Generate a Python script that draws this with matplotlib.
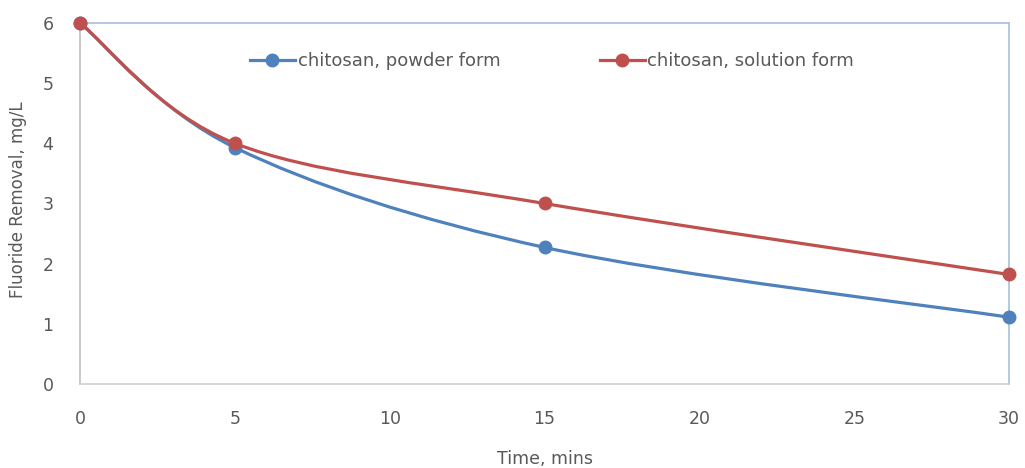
import numpy as np
import matplotlib
matplotlib.use('Agg')
import matplotlib.pyplot as plt
from matplotlib.path import Path
from matplotlib.patches import PathPatch
from matplotlib.lines import Line2D

# data
time_min = [0, 5, 15, 30]
powder = [6.0, 3.93, 2.27, 1.11]
solution = [6.0, 4.0, 3.0, 1.82]
series_names = ['chitosan, powder form', 'chitosan, solution form']
x_ticks = [0, 5, 10, 15, 20, 25, 30]
y_ticks = [0, 1, 2, 3, 4, 5, 6]

blue = '#4F81BD'
red = '#C0504D'
grey_txt = '#595959'

plt.rcParams['font.family'] = ['DejaVu Sans']


def smooth_path(xs, ys):
    # excel-style smoothed line: cubic bezier through the points
    pts = np.column_stack([xs, ys]).astype(float)
    n = len(pts)
    verts = [pts[0]]
    codes = [Path.MOVETO]
    for i in range(n - 1):
        p0 = pts[i - 1] if i > 0 else pts[i]
        p1 = pts[i]
        p2 = pts[i + 1]
        p3 = pts[i + 2] if i + 2 < n else pts[i + 1]
        c1 = p1 + (p2 - p0) / 6.0
        c2 = p2 - (p3 - p1) / 6.0
        verts += [c1, c2, p2]
        codes += [Path.CURVE4] * 3
    return Path(verts, codes)


fig = plt.figure(figsize=(10.25, 4.68), dpi=100)
ax = fig.add_axes([0.078, 0.1795, 0.9065, 0.7714])

for ys, col in [(powder, blue), (solution, red)]:
    ax.add_patch(PathPatch(smooth_path(time_min, ys), facecolor='none',
                           edgecolor=col, lw=2.3, clip_on=False, zorder=3))
    ax.plot(time_min, ys, ls='none', marker='o', ms=9, color=col,
            clip_on=False, zorder=4)

ax.set_xlim(0, 30)
ax.set_ylim(0, 6)
ax.set_xticks(x_ticks)
ax.set_yticks(y_ticks)
ax.tick_params(length=0, labelsize=12.5, colors=grey_txt)
ax.tick_params(axis='x', pad=19)
ax.tick_params(axis='y', pad=19)

ax.spines['left'].set_color('#BFBFBF')
ax.spines['bottom'].set_color('#D0D0D0')
ax.spines['top'].set_color('#A7BFDE')
ax.spines['right'].set_color('#A7BFDE')
for s in ax.spines.values():
    s.set_linewidth(1.2)

ax.set_xlabel('Time, mins', fontsize=12.5, color=grey_txt)
ax.xaxis.set_label_coords(0.5, -0.183)
ax.set_ylabel('Fluoride Removal, mg/L', fontsize=12, color=grey_txt)
ax.yaxis.set_label_coords(-0.0575, 0.51)

handles = [Line2D([], [], color=blue, lw=2.3, marker='o', ms=9),
           Line2D([], [], color=red, lw=2.3, marker='o', ms=9)]
leg = ax.legend(handles, series_names, loc='center left',
                bbox_to_anchor=(0.175, 0.895), ncol=2, frameon=False,
                fontsize=13, handlelength=2.5, handletextpad=0.15,
                columnspacing=5.5, borderaxespad=0)
for t in leg.get_texts():
    t.set_color(grey_txt)

fig.savefig('out.png', dpi=100)
